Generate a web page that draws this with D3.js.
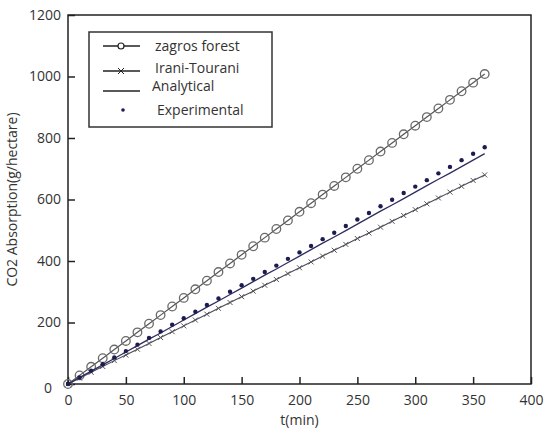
<!DOCTYPE html>
<html><head><meta charset="utf-8">
<script src="https://cdn.jsdelivr.net/npm/d3@7/dist/d3.min.js"></script>
<style>
body{margin:0;background:#fff;}
svg text{font-family:"Open Sans",sans-serif;fill:#333;}
</style></head>
<body><svg id="c" width="544" height="428"></svg>
<script>
const tValues = [0,10,20,30,40,50,60,70,80,90,100,110,120,130,140,150,160,170,180,190,200,210,220,230,240,250,260,270,280,290,300,310,320,330,340,350,360];
const zagros = [0,28,56,84,112,140,168,196,224,252,280,308,336,364,392,420,448,476,504,532,560,588,616,644,672,700,728,756,784,812,840,868,896,924,952,980,1008];
const iraniTourani = [0,19,38,57,76,94,113,132,151,170,189,208,227,246,265,284,302,321,340,359,378,397,416,435,454,473,491,510,529,548,567,586,605,624,643,662,680];
const analytical = [0,21,42,62,83,104,125,146,166,187,208,229,250,270,291,312,333,354,374,395,416,437,458,478,499,520,541,562,582,603,624,645,666,686,707,728,749];
const experimental = [0,21,43,64,86,107,128,150,171,193,214,235,257,278,300,321,342,364,385,407,428,449,471,492,514,535,556,578,599,621,642,663,685,706,728,749,770];
const xTicks = [0,50,100,150,200,250,300,350,400];
const yTicks = [0,200,400,600,800,1000,1200];
const seriesNames = ["zagros forest","Irani-Tourani","Analytical","Experimental"];

const svg = d3.select("#c");
const L=68,R=531,T=15,B=384;
const x = d3.scaleLinear().domain([0,400]).range([L,R]);
const y = d3.scaleLinear().domain([0,1200]).range([B,T]);

// axes
const xa = svg.append("g").attr("transform",`translate(0,${B})`)
  .call(d3.axisBottom(x).tickValues(xTicks).tickFormat(d3.format("d")).tickSizeInner(-7).tickSizeOuter(0).tickPadding(11));
const ya = svg.append("g").attr("transform",`translate(${L},0)`)
  .call(d3.axisLeft(y).tickValues(yTicks).tickFormat(d3.format("d")).tickSizeInner(-7).tickSizeOuter(0).tickPadding(7));
[xa,ya].forEach(g=>{
  g.select(".domain").remove();
  g.selectAll("line").attr("stroke","#222").attr("stroke-width",1.5);
  g.selectAll("text").attr("font-size",14).attr("fill","#333").style("font-family","'Open Sans',sans-serif");
});
ya.selectAll(".tick").filter(d=>d===0).select("text").attr("dx",-9).attr("dy","0.6em");
// frame
svg.append("rect").attr("x",L).attr("y",T).attr("width",R-L).attr("height",B-T)
  .attr("fill","none").attr("stroke","#222").attr("stroke-width",1.5);

// labels
svg.append("text").attr("x",(L+R)/2).attr("y",425).attr("text-anchor","middle").attr("font-size",14).text("t(min)");
svg.append("text").attr("transform",`translate(17,${(T+B)/2}) rotate(-90)`).attr("text-anchor","middle")
  .attr("font-size",14).text("CO2 Absorption(g/hectare)");

const line = d3.line().x((d,i)=>x(tValues[i])).y(d=>y(d));
const plot = svg.append("g");

// zagros
plot.append("path").datum(zagros).attr("d",line).attr("fill","none").attr("stroke","#555").attr("stroke-width",1.2);
plot.selectAll(".zc").data(zagros).join("circle").attr("cx",(d,i)=>x(tValues[i])).attr("cy",d=>y(d))
  .attr("r",4.3).attr("fill","none").attr("stroke","#6a6a6a").attr("stroke-width",1.3);

// irani
plot.append("path").datum(iraniTourani).attr("d",line).attr("fill","none").attr("stroke","#4a4a5a").attr("stroke-width",1.1);
const cross = (g,cx,cy,s)=>{
  g.append("path").attr("d",`M${cx-s},${cy-s}L${cx+s},${cy+s}M${cx-s},${cy+s}L${cx+s},${cy-s}`)
   .attr("stroke","#555").attr("stroke-width",1);
};
iraniTourani.forEach((d,i)=>cross(plot,x(tValues[i]),y(d),2.5));

// analytical
plot.append("path").datum(analytical).attr("d",line).attr("fill","none").attr("stroke","#2e2e5e").attr("stroke-width",1.3);

// experimental
plot.selectAll(".ed").data(experimental).join("circle").attr("cx",(d,i)=>x(tValues[i])).attr("cy",d=>y(d))
  .attr("r",2.2).attr("fill","#1c1c50");

// legend
const lg = svg.append("g");
lg.append("rect").attr("x",89).attr("y",32).attr("width",183).attr("height",95)
  .attr("fill","#fff").attr("stroke","#333").attr("stroke-width",1.5);
const ly=[46,71,91,110];
lg.append("line").attr("x1",103).attr("x2",140).attr("y1",ly[0]).attr("y2",ly[0]).attr("stroke","#222").attr("stroke-width",1.3);
lg.append("circle").attr("cx",121).attr("cy",ly[0]).attr("r",3).attr("fill","#fff").attr("stroke","#222").attr("stroke-width",1.2);
lg.append("line").attr("x1",103).attr("x2",140).attr("y1",ly[1]).attr("y2",ly[1]).attr("stroke","#222").attr("stroke-width",1.3);
cross(lg,121,ly[1],3);
lg.select("path:last-child").attr("stroke","#222");
lg.append("line").attr("x1",103).attr("x2",140).attr("y1",ly[2]).attr("y2",ly[2]).attr("stroke","#222").attr("stroke-width",1.3);
lg.append("circle").attr("cx",123).attr("cy",ly[3]).attr("r",1.8).attr("fill","#1c1c50");
const tx=[155,155,152,157], tyy=[46,68,86,110];
seriesNames.forEach((n,i)=>lg.append("text").attr("x",tx[i]).attr("y",tyy[i]).attr("dy","0.35em").attr("font-size",14).text(n));
</script></body></html>
